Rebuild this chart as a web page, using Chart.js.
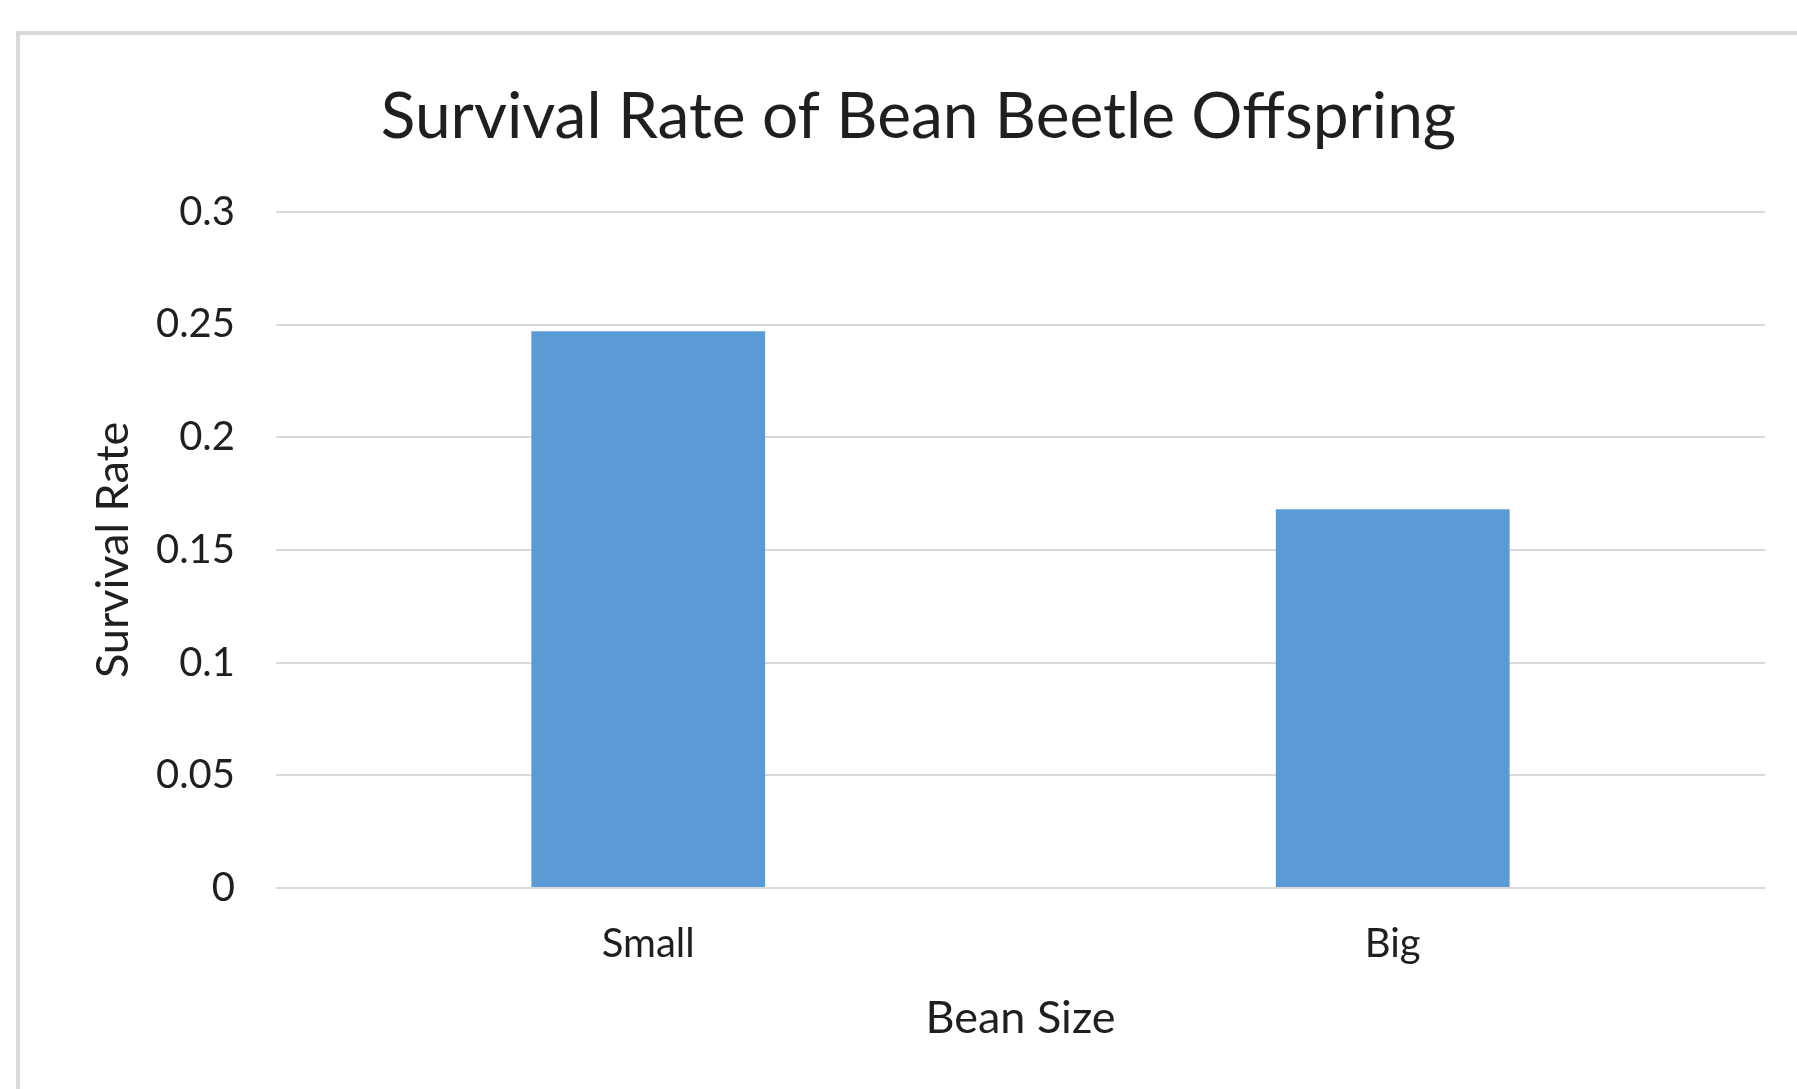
<!DOCTYPE html>
<html>
<head>
<meta charset="utf-8">
<script src="https://cdn.jsdelivr.net/npm/chart.js@4.4.1/dist/chart.umd.min.js"></script>
<style>
  html, body { margin: 0; padding: 0; background: #ffffff; overflow: hidden; }
  #wrap { position: relative; width: 1797px; height: 1089px; }
  #frame {
    position: absolute; left: 16px; top: 31px; width: 1800px; height: 1100px;
    border-left: 4px solid #d9d9d9; border-top: 4px solid #d9d9d9; box-sizing: border-box;
  }
  canvas { position: absolute; left: 0; top: 0; }
</style>
</head>
<body>
<div id="wrap">
  <div id="frame"></div>
  <canvas id="chart" width="1797" height="1089"></canvas>
</div>
<script>
// Survival rate per bean size
const categories = ['Small', 'Big'];
const survivalRate = [0.247, 0.168];
const yTickValues = [0, 0.05, 0.1, 0.15, 0.2, 0.25, 0.3];

const chartTitle = 'Survival Rate of Bean Beetle Offspring';
const xTitle = 'Bean Size';
const yTitle = 'Survival Rate';

const textColor = '#1f1f1f';
const gridColor = '#d9d9d9';
const barColor = '#5b9bd5';
const fontFamily = 'Lato, "Open Sans", sans-serif';

new Chart(document.getElementById('chart'), {
  type: 'bar',
  data: {
    labels: categories,
    datasets: [{
      data: survivalRate,
      backgroundColor: barColor,
      borderWidth: 0,
      barPercentage: 0.314,
      categoryPercentage: 1.0
    }]
  },
  options: {
    responsive: false,
    animation: false,
    devicePixelRatio: 1,
    layout: { padding: { left: 72, right: 32, top: 40, bottom: 44 } },
    plugins: {
      legend: { display: false },
      tooltip: { enabled: false },
      title: {
        display: true,
        text: chartTitle,
        color: textColor,
        font: { family: fontFamily, size: 64, weight: 'normal' },
        padding: { top: 39, bottom: 56 }
      }
    },
    scales: {
      x: {
        grid: { display: false, drawTicks: false },
        border: { display: false },
        ticks: {
          color: textColor,
          font: { family: fontFamily, size: 40 },
          padding: 32,
          maxRotation: 0
        },
        title: {
          display: true,
          text: xTitle,
          color: textColor,
          font: { family: fontFamily, size: 45 },
          padding: { top: 0, bottom: 0 }
        },
        afterFit(scale) { scale.height = 157; }
      },
      y: {
        min: 0,
        max: 0.3,
        afterBuildTicks(scale) { scale.ticks = yTickValues.map(v => ({ value: v })); },
        grid: { color: gridColor, lineWidth: 2, drawTicks: false },
        border: { display: false },
        ticks: {
          color: textColor,
          font: { family: fontFamily, size: 40 },
          padding: 41,
          callback: v => String(v)
        },
        title: {
          display: true,
          text: yTitle,
          color: textColor,
          font: { family: fontFamily, size: 45 },
          padding: { top: 14, bottom: 0 }
        },
        afterFit(scale) { scale.width = 204; }
      }
    }
  }
});
</script>
</body>
</html>
